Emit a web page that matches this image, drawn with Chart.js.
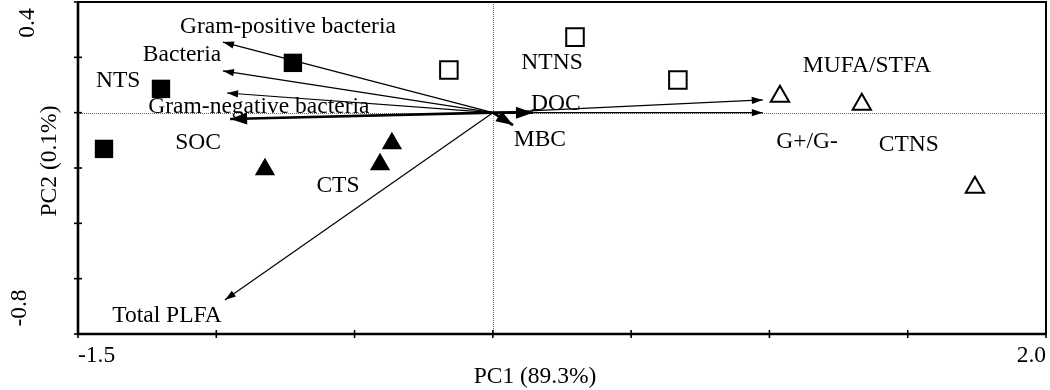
<!DOCTYPE html>
<html><head><meta charset="utf-8">
<script src="https://cdn.jsdelivr.net/npm/chart.js@4/dist/chart.umd.min.js"></script>
<style>html,body{margin:0;padding:0;background:#fff}#wrap{width:1050px;height:390px}</style>
</head><body><div id="wrap"><canvas id="c" width="1050" height="390"></canvas></div>
<script>
// ---- axes ----
const xTickValues = [-1.5, -1.0, -0.5, 0, 0.5, 1.0, 1.5, 2.0];
const yTickValues = [0.4, 0.2, 0, -0.2, -0.4, -0.6, -0.8];
const xLabelValues = [-1.5, 2.0];
const xLabelTexts = ['-1.5', '2.0'];
const yLabelValues = [0.4, -0.8];
const yLabelTexts = ['0.4', '-0.8'];
const xTitle = 'PC1 (89.3%)';
const yTitle = 'PC2 (0.1%)';

// ---- sample scores ----
const ntsX = [-0.723, -1.200, -1.406];
const ntsY = [0.180, 0.086, -0.131];
const ntnsX = [-0.159, 0.297, 0.669];
const ntnsY = [0.154, 0.273, 0.118];
const ctsX = [-0.365, -0.824, -0.408];
const ctsY = [-0.111, -0.205, -0.187];
const ctnsX = [1.038, 1.334, 1.743];
const ctnsY = [0.059, 0.030, -0.270];

// ---- variable loadings (arrows from origin) ----
const arrowNames = ['Gram-positive bacteria', 'Bacteria', 'Gram-negative bacteria', 'SOC', 'Total PLFA', 'DOC', 'MBC', 'MUFA/STFA', 'G+/G-'];
const arrowX = [-0.976, -0.976, -0.961, -0.950, -0.969, 0.145, 0.073, 0.976, 0.976];
const arrowY = [0.255, 0.151, 0.071, -0.023, -0.677, 0.000, -0.045, 0.046, 0.000];
const boldArrows = ['SOC', 'DOC', 'MBC'];

// ---- text labels ----
const labelTexts = ['Gram-positive bacteria', 'Bacteria', 'NTS', 'Gram-negative bacteria', 'SOC', 'CTS', 'Total PLFA', 'NTNS', 'DOC', 'MBC', 'MUFA/STFA', 'G+/G-', 'CTNS'];
const labelX = [-0.741, -1.124, -1.355, -0.846, -1.066, -0.560, -1.178, 0.214, 0.228, 0.170, 1.353, 1.136, 1.504];
const labelY = [0.310, 0.208, 0.114, 0.020, -0.110, -0.265, -0.735, 0.180, 0.031, -0.099, 0.169, -0.106, -0.117];

const FONT = '23.5px "Liberation Serif", "Times New Roman", serif';
const pts = (xs, ys) => xs.map((v, i) => ({x: v, y: ys[i]}));

const datasets = [];
arrowNames.forEach((n, i) => {
  const bold = boldArrows.includes(n);
  datasets.push({label: n, data: [{x: 0, y: 0}, {x: arrowX[i], y: arrowY[i]}], showLine: true,
    borderColor: '#000', borderWidth: bold ? 2.6 : 1.2, pointRadius: 0, order: 5});
});
datasets.push({label: 'NTS', data: pts(ntsX, ntsY), pointStyle: 'rect', pointRadius: 13, backgroundColor: '#000', borderColor: '#000', borderWidth: 0, order: 1});
datasets.push({label: 'NTNS', data: pts(ntnsX, ntnsY), pointStyle: 'rect', pointRadius: 12.4, backgroundColor: '#fff', borderColor: '#000', borderWidth: 2, order: 1});
datasets.push({label: 'CTS', data: pts(ctsX, ctsY), pointStyle: 'triangle', pointRadius: 11.7, backgroundColor: '#000', borderColor: '#000', borderWidth: 0, order: 1});
datasets.push({label: 'CTNS', data: pts(ctnsX, ctnsY), pointStyle: 'triangle', pointRadius: 10.6, backgroundColor: '#fff', borderColor: '#000', borderWidth: 2, order: 1});

const decor = {
  id: 'decor',
  beforeDatasetsDraw(chart) {
    const {ctx, chartArea: a, scales: {x, y}} = chart;
    ctx.save();
    ctx.strokeStyle = '#666'; ctx.lineWidth = 1; ctx.setLineDash([1, 1]);
    const x0 = Math.round(x.getPixelForValue(0)) + 0.5;
    const y0 = Math.round(y.getPixelForValue(0)) + 0.5;
    ctx.beginPath(); ctx.moveTo(x0, a.top); ctx.lineTo(x0, a.bottom); ctx.stroke();
    ctx.beginPath(); ctx.moveTo(a.left, y0); ctx.lineTo(a.right, y0); ctx.stroke();
    ctx.restore();
  },
  afterDatasetsDraw(chart) {
    const {ctx, chartArea: a, scales: {x, y}} = chart;
    ctx.save();
    // arrowheads
    const ox = x.getPixelForValue(0), oy = y.getPixelForValue(0);
    arrowNames.forEach((n, i) => {
      const bold = boldArrows.includes(n);
      const tx = x.getPixelForValue(arrowX[i]), ty = y.getPixelForValue(arrowY[i]);
      const ang = Math.atan2(ty - oy, tx - ox);
      const L = bold ? 17 : 11, W = bold ? 6 : 3.6;
      ctx.fillStyle = '#000';
      ctx.beginPath();
      ctx.moveTo(tx, ty);
      ctx.lineTo(tx - L * Math.cos(ang) + W * Math.sin(ang), ty - L * Math.sin(ang) - W * Math.cos(ang));
      ctx.lineTo(tx - L * Math.cos(ang) - W * Math.sin(ang), ty - L * Math.sin(ang) + W * Math.cos(ang));
      ctx.closePath(); ctx.fill();
    });
    // text labels
    ctx.font = FONT; ctx.fillStyle = '#000'; ctx.textAlign = 'center'; ctx.textBaseline = 'middle';
    labelTexts.forEach((t, i) => ctx.fillText(t, x.getPixelForValue(labelX[i]), y.getPixelForValue(labelY[i])));
    // frame
    ctx.strokeStyle = '#000';
    ctx.lineWidth = 2;
    ctx.strokeRect(a.left, a.top, a.right - a.left, a.bottom - a.top);
    ctx.lineWidth = 2.6;
    ctx.beginPath(); ctx.moveTo(a.left, a.top); ctx.lineTo(a.left, a.bottom); ctx.lineTo(a.right, a.bottom); ctx.stroke();
    // ticks
    ctx.lineWidth = 1.6;
    xTickValues.forEach(v => { const px = x.getPixelForValue(v); ctx.beginPath(); ctx.moveTo(px, a.bottom - 4); ctx.lineTo(px, a.bottom + 4); ctx.stroke(); });
    yTickValues.forEach(v => { const py = y.getPixelForValue(v); ctx.beginPath(); ctx.moveTo(a.left - 4, py); ctx.lineTo(a.left + 4, py); ctx.stroke(); });
    // x tick labels
    ctx.textBaseline = 'middle';
    xLabelValues.forEach((v, i) => {
      ctx.textAlign = i === 0 ? 'left' : 'right';
      ctx.fillText(xLabelTexts[i], x.getPixelForValue(v), a.bottom + 22);
    });
    // y tick labels (rotated)
    ctx.textAlign = 'center';
    yLabelValues.forEach((v, i) => {
      const py = y.getPixelForValue(v);
      const cy = i === 0 ? py + 21 : py - 26;
      const cx = i === 0 ? 28 : 20;
      ctx.save(); ctx.translate(cx, cy); ctx.rotate(-Math.PI / 2); ctx.fillText(yLabelTexts[i], 0, 0); ctx.restore();
    });
    // titles
    ctx.fillText(xTitle, 535, a.bottom + 43);
    ctx.save(); ctx.translate(50, 161); ctx.rotate(-Math.PI / 2); ctx.fillText(yTitle, 0, 0); ctx.restore();
    ctx.restore();
  }
};

new Chart(document.getElementById('c'), {
  type: 'scatter',
  data: {datasets},
  options: {
    responsive: false, animation: false, devicePixelRatio: 1,
    layout: {autoPadding: false, padding: {left: 78, right: 4, top: 2, bottom: 56}},
    plugins: {legend: {display: false}, tooltip: {enabled: false}},
    scales: {
      x: {type: 'linear', min: -1.5, max: 2.0, display: false},
      y: {type: 'linear', min: -0.8, max: 0.4, display: false}
    }
  },
  plugins: [decor]
});
</script></body></html>
